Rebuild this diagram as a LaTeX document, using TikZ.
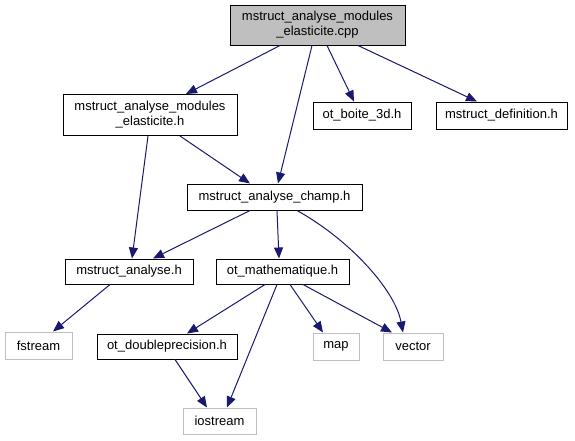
\documentclass[tikz,border=0pt]{standalone}
\usepackage{fontspec}
\setmainfont{Liberation Sans}
\usetikzlibrary{arrows.meta}
\definecolor{edgeblue}{RGB}{25,25,112}
\definecolor{sysgrey}{RGB}{191,191,191}
\tikzset{
  box/.style={draw=black, line width=1pt, rectangle, inner sep=0pt, align=center,
    font=\fontsize{13}{15}\selectfont},
  sysbox/.style={box, draw=sysgrey},
  dep/.style={draw=edgeblue, line width=1pt, -{Triangle[length=11pt,width=9pt]}, fill=none},
}
\begin{document}
\begin{tikzpicture}[x=1pt,y=-1pt]
\useasboundingbox (0,0) rectangle (575,440);
\node[box, fill=sysgrey, minimum width=175, minimum height=40] (cpp) at (317.5,25) {mstruct\_analyse\_modules\\\_elasticite.cpp};
\node[box, minimum width=174, minimum height=41] (mod) at (150,115) {mstruct\_analyse\_modules\\\_elasticite.h};
\node[box, minimum width=98, minimum height=27] (boite) at (362,115.5) {ot\_boite\_3d.h};
\node[box, minimum width=131, minimum height=27] (def) at (501.5,115.5) {mstruct\_definition.h};
\node[box, minimum width=175, minimum height=26] (champ) at (274.5,197) {mstruct\_analyse\_champ.h};
\node[box, minimum width=128, minimum height=25] (ana) at (129,271.5) {mstruct\_analyse.h};
\node[box, minimum width=133, minimum height=25] (math) at (282.5,271.5) {ot\_mathematique.h};
\node[sysbox, minimum width=67, minimum height=27] (fstream) at (38.5,345.5) {fstream};
\node[box, minimum width=140, minimum height=25] (dbl) at (167,346.5) {ot\_doubleprecision.h};
\node[sysbox, minimum width=73, minimum height=26] (iostream) at (219.5,421) {iostream};
\node[sysbox, minimum width=46, minimum height=27] (map) at (336,346.5) {map};
\node[sysbox, minimum width=60, minimum height=27] (vector) at (413,346.5) {vector};

\draw[dep] ([xshift=-37.5]cpp.south) -- ([xshift=36]mod.north);
\draw[dep] ([xshift=-5.5]cpp.south) -- ([xshift=3.5]champ.north);
\draw[dep] ([xshift=9.5]cpp.south) -- ([xshift=-8]boite.north);
\draw[dep] ([xshift=40.5]cpp.south) -- ([xshift=-24.5]def.north);
\draw[dep] ([xshift=-2]mod.south) -- ([xshift=3]ana.north);
\draw[dep] ([xshift=30]mod.south) -- ([xshift=-24.5]champ.north);
\draw[dep] ([xshift=-24.5]champ.south) -- ([xshift=24]ana.north);
\draw[dep] ([xshift=2.5]champ.south) -- ([xshift=-3.5]math.north);
\draw[dep] ([xshift=22.5]champ.south) .. controls (350,240) and (395,290) .. ([xshift=-10]vector.north);
\draw[dep] ([xshift=-19]ana.south) -- ([xshift=14.5]fstream.north);
\draw[dep] ([xshift=-17.5]math.south) -- ([xshift=20]dbl.north);
\draw[dep] ([xshift=-5.5]math.south) -- ([xshift=7.5]iostream.north);
\draw[dep] ([xshift=7.5]math.south) -- ([xshift=-13]map.north);
\draw[dep] ([xshift=20.5]math.south) -- ([xshift=-21]vector.north);
\draw[dep] ([xshift=8]dbl.south) -- ([xshift=-12.5]iostream.north);
\end{tikzpicture}
\end{document}
